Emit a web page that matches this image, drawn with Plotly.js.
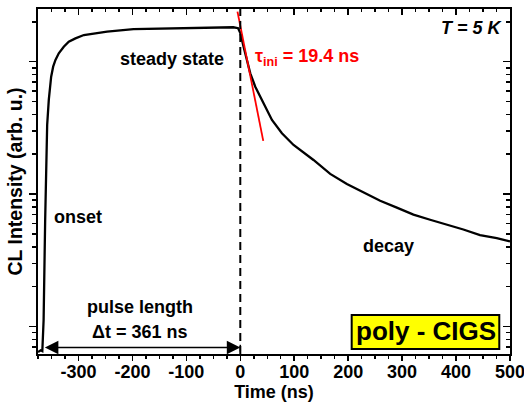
<!DOCTYPE html>
<html>
<head>
<meta charset="utf-8">
<script src="https://cdn.plot.ly/plotly-3.0.1.min.js"></script>
<style>html,body{margin:0;padding:0;background:#fff;}#chart{width:524px;height:403px;}</style>
</head>
<body>
<div id="chart"></div>
<script>
// ---- data ----
const timeNs = [-375, -370, -367, -366.5, -364.6, -361.7, -359.8, -358, -355, -350.6, -346.9, -342.6, -336.5, -327.2, -318, -305.6, -290, -271.7, -246.9, -198, -135, -60, -13, -4, 0, 6.1, 12.4, 18.5, 27.8, 37, 46.3, 58.7, 77.2, 98.7, 135.7, 166.7, 197.6, 228.3, 259.3, 290.2, 321, 351.9, 382.8, 413.5, 444.4, 475.4, 500];
const intensity = [0.64, 0.66, 0.65, 0.71, 1.12, 6.4, 24.3, 33.3, 51.4, 77, 91.7, 103, 115.7, 129.7, 141.5, 150, 159, 164, 169, 176, 178, 180, 182, 179, 165, 129.8, 103, 81.7, 64.7, 54.4, 45.7, 36.3, 28.8, 23.5, 18.1, 14.2, 11.9, 10.3, 8.9, 7.9, 7.0, 6.4, 5.9, 5.4, 4.9, 4.65, 4.39];
const tangentT = [-5.2, 42.6];
const tangentI = [239, 25.2];
const pulseStartNs = -365;
const pulseEndNs = 0;
const arrowLevel = 0.695;
const xTickVals = [-300, -200, -100, 0, 100, 200, 300, 400, 500];
const xTickText = ['-300', '-200', '-100', '0', '100', '200', '300', '400', '500'];
const yMajor = [1, 10, 100];
const yMinor = [0.7, 0.8, 0.9, 2, 3, 4, 5, 6, 7, 8, 9, 20, 30, 40, 50, 60, 70, 80, 90, 200];

const FONT = 'Liberation Sans, Arial, Helvetica, sans-serif';
const xRange = [-375, 500];
const yRange = [-0.208, 2.398];

const traces = [
  {x: timeNs, y: intensity, mode: 'lines', line: {color: '#000', width: 2.3}, hoverinfo: 'skip'},
  {x: tangentT, y: tangentI, mode: 'lines', line: {color: '#ff0000', width: 1.8}, hoverinfo: 'skip'},
  {x: [pulseEndNs, pulseEndNs], y: [0.727, 0.647], mode: 'lines', line: {color: '#000', width: 1.5}, hoverinfo: 'skip'},
  {x: [0], y: [10], xaxis: 'x2', yaxis: 'y', mode: 'markers', marker: {opacity: 0}, hoverinfo: 'skip'},
  {x: [0], y: [10], xaxis: 'x', yaxis: 'y2', mode: 'markers', marker: {opacity: 0}, hoverinfo: 'skip'}
];

const axisCommon = {showgrid: false, zeroline: false, showline: true, linewidth: 2, linecolor: '#000', tickcolor: '#000', tickwidth: 1.5, automargin: false};

const layout = {
  width: 524, height: 403,
  margin: {l: 38, r: 14, t: 9, b: 49, pad: 0},
  paper_bgcolor: '#fff', plot_bgcolor: '#fff',
  showlegend: false,
  font: {family: FONT, size: 18, color: '#000', weight: 'bold'},
  xaxis: Object.assign({}, axisCommon, {
    range: xRange, tickmode: 'array', tickvals: xTickVals, ticktext: xTickText,
    ticks: 'outside', ticklen: 5, ticklabelstandoff: -5, ticklabeloverflow: 'allow',
    tickfont: {family: FONT, size: 18, weight: 'bold', color: '#000'},
    minor: {dtick: 25, tick0: 0, ticks: 'outside', ticklen: 3, tickwidth: 1.5, tickcolor: '#000', showgrid: false},
    title: {text: 'Time (ns)', font: {family: FONT, size: 18, weight: 'bold', color: '#000'}, standoff: 3}
  }),
  xaxis2: Object.assign({}, axisCommon, {
    overlaying: 'x', side: 'top', anchor: 'y',
    range: xRange, tickmode: 'array', tickvals: xTickVals, showticklabels: false,
    ticks: 'inside', ticklen: 6,
    minor: {dtick: 25, tick0: 0, ticks: 'inside', ticklen: 3, tickwidth: 1.5, tickcolor: '#000', showgrid: false}
  }),
  yaxis: Object.assign({}, axisCommon, {
    type: 'log', range: yRange, tickmode: 'array', tickvals: yMajor, showticklabels: false,
    ticks: 'outside', ticklen: 7,
    minor: {tickmode: 'array', tickvals: yMinor, ticks: 'outside', ticklen: 4, tickwidth: 1.5, tickcolor: '#000', showgrid: false},
    title: {text: 'CL Intensity (arb. u.)', font: {family: FONT, size: 19.5, weight: 'bold', color: '#000'}, standoff: 1}
  }),
  yaxis2: Object.assign({}, axisCommon, {
    type: 'log', overlaying: 'y', side: 'right', anchor: 'x',
    range: yRange, tickmode: 'array', tickvals: yMajor, showticklabels: false,
    ticks: 'inside', ticklen: 7,
    minor: {tickmode: 'array', tickvals: yMinor, ticks: 'inside', ticklen: 4, tickwidth: 1.5, tickcolor: '#000', showgrid: false}
  }),
  shapes: [
    {type: 'line', xref: 'x', yref: 'paper', x0: pulseEndNs, x1: pulseEndNs, y0: 0, y1: 1,
     line: {color: '#000', width: 2, dash: '8px,5px'}},
    {type: 'rect', xref: 'paper', yref: 'paper', x0: 0.6646, x1: 0.9773, y0: 0.0145, y1: 0.113,
     fillcolor: '#ffff00', line: {color: '#000', width: 2}}
  ],
  annotations: [
    {x: pulseEndNs, y: Math.log10(arrowLevel), xref: 'x', yref: 'y',
     ax: pulseStartNs, ay: Math.log10(arrowLevel), axref: 'x', ayref: 'y',
     text: '', showarrow: true, arrowhead: 2, startarrowhead: 2, arrowside: 'end+start',
     arrowsize: 1.8, startarrowsize: 1.8, arrowwidth: 1.5, arrowcolor: '#000', standoff: 0, startstandoff: 0},
    {xref: 'paper', yref: 'paper', x: 0.283, y: 0.855, text: 'steady state', showarrow: false,
     xanchor: 'center', yanchor: 'middle', font: {family: FONT, size: 18, weight: 'bold', color: '#000'}},
    {xref: 'paper', yref: 'paper', x: 0.4555, y: 0.86, text: 'τ<sub>ini</sub> = 19.4 ns', showarrow: false,
     xanchor: 'left', yanchor: 'middle', font: {family: FONT, size: 18, weight: 'bold', color: '#ff0000'}},
    {xref: 'paper', yref: 'paper', x: 0.989, y: 0.945, text: '<i>T</i><i> = 5 K</i>', showarrow: false,
     xanchor: 'right', yanchor: 'middle', font: {family: FONT, size: 18, weight: 'bold', color: '#000'}},
    {xref: 'paper', yref: 'paper', x: 0.0858, y: 0.397, text: 'onset', showarrow: false,
     xanchor: 'center', yanchor: 'middle', font: {family: FONT, size: 18, weight: 'bold', color: '#000'}},
    {xref: 'paper', yref: 'paper', x: 0.7426, y: 0.313, text: 'decay', showarrow: false,
     xanchor: 'center', yanchor: 'middle', font: {family: FONT, size: 18, weight: 'bold', color: '#000'}},
    {xref: 'paper', yref: 'paper', x: 0.2157, y: 0.1348, text: 'pulse length', showarrow: false,
     xanchor: 'center', yanchor: 'middle', font: {family: FONT, size: 18, weight: 'bold', color: '#000'}},
    {xref: 'paper', yref: 'paper', x: 0.2157, y: 0.0646, text: 'Δt = 361 ns', showarrow: false,
     xanchor: 'center', yanchor: 'middle', font: {family: FONT, size: 18, weight: 'bold', color: '#000'}},
    {xref: 'paper', yref: 'paper', x: 0.821, y: 0.0667, text: 'poly - CIGS', showarrow: false,
     xanchor: 'center', yanchor: 'middle', font: {family: FONT, size: 26, weight: 'bold', color: '#000'}}
  ]
};

Plotly.newPlot('chart', traces, layout, {displayModeBar: false, staticPlot: true});
</script>
</body>
</html>
